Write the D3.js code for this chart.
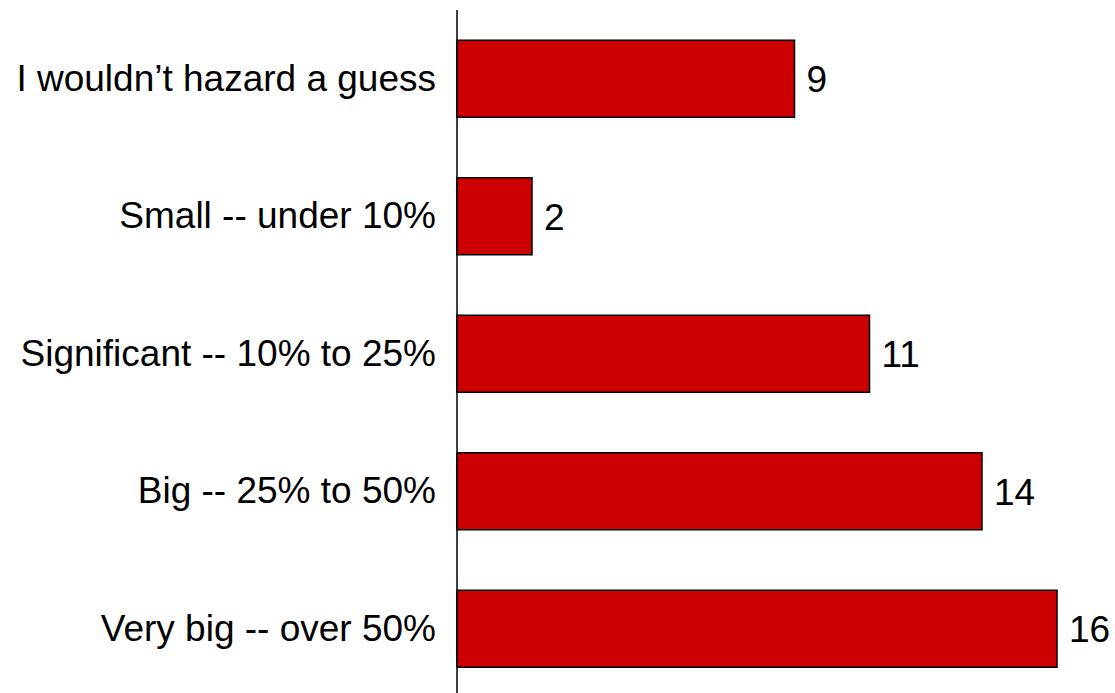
<!DOCTYPE html>
<html lang='en'>
<head>
  <meta charset='UTF-8'>
  <title>Chart</title>
  <script src='https://d3js.org/d3.v7.min.js'></script>
  <style>
    body { margin: 0; background: #fff; }
    svg { display: block; }
  </style>
</head>
<body>
  <svg width='1115' height='693'></svg>

  <script>
    var categories = [
      'I wouldn\u2019t hazard a guess',
      'Small -- under 10%',
      'Significant -- 10% to 25%',
      'Big -- 25% to 50%',
      'Very big -- over 50%'
    ];
    var counts = [9, 2, 11, 14, 16];

    var data = categories.map((c, i) => ({ label: c, value: counts[i] }));

    var svg = d3.select('svg'),
      left = 457;

    var x = d3.scaleLinear()
      .domain([0, 16])
      .range([left, left + 600]);
    var y = d3.scaleBand()
      .domain(categories)
      .range([10, 697.5])
      .paddingInner(0.44)
      .paddingOuter(0.22);

    var g = svg.append('g');

    g.selectAll('rect').data(data)
     .enter().append('rect')
      .attr('x', x(0))
      .attr('y', d => y(d.label))
      .attr('width', d => x(d.value) - x(0))
      .attr('height', y.bandwidth())
      .attr('fill', '#cc0000')
      .attr('stroke', '#000')
      .attr('stroke-width', 1.5);

    g.selectAll('.val').data(data)
     .enter().append('text')
      .attr('class', 'val')
      .attr('x', d => x(d.value) + 12)
      .attr('y', d => y(d.label) + y.bandwidth() / 2)
      .attr('dy', '0.36em')
      .attr('font-family', 'Liberation Sans, Arial, sans-serif')
      .attr('font-size', 37)
      .attr('fill', '#000')
      .text(d => d.value);

    // category axis, labels only
    var axis = svg.append('g')
      .attr('transform', 'translate(' + left + ',0)')
      .call(d3.axisLeft(y).tickSize(0).tickPadding(21));
    axis.select('.domain')
      .attr('d', 'M0,10V693')
      .attr('stroke', '#000')
      .attr('stroke-width', 1.5);
    axis.selectAll('text')
      .attr('font-family', 'Liberation Sans, Arial, sans-serif')
      .attr('font-size', 37)
      .attr('fill', '#000');
  </script>
</body>
</html>
